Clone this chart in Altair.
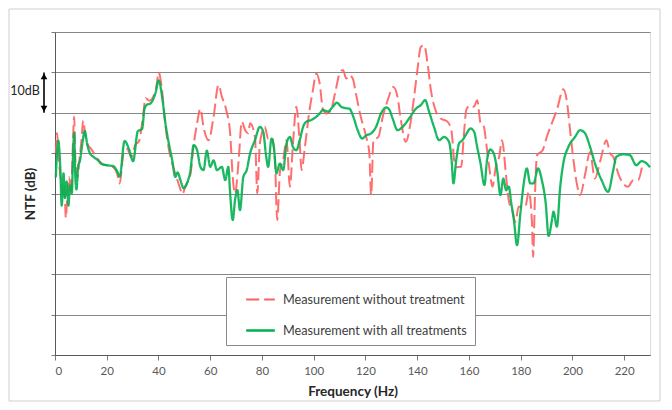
import altair as alt
import pandas as pd

series_names = ["Measurement without treatment", "Measurement with all treatments"]
x_ticks = [0, 20, 40, 60, 80, 100, 120, 140, 160, 180, 200, 220]
y_grid = [0, 10, 20, 30, 40, 50, 60, 70, 80]

red_freq = [0.3, 0.8, 1.5, 2.2, 3.0, 3.6, 4.2, 4.8, 5.5, 6.2, 6.8, 7.4, 7.9, 8.7, 9.4,
            10.2, 10.9, 11.8, 12.8, 14, 16, 18, 20, 22.5, 24, 25, 26.5, 28, 29.5, 31,
            32.5, 34, 35, 36.5, 38, 39.2, 40.1, 41.2, 42.5, 44, 45.5, 47, 48.5, 49.2,
            50.5, 52.3, 53.6, 54.9, 56.2, 57.4, 59.4, 61.3, 63.2, 64.5, 66.2, 67.7,
            68.7, 69.6, 71, 72.2, 73.5, 74.7, 75.4, 77.3, 78.2, 79.2, 81.1, 82.4, 83.7,
            85, 85.9, 87, 88.2, 89.5, 90.8, 92, 93.3, 94.6, 95.3, 96.6, 98.2, 99.7,
            101, 102.3, 103.6, 105.1, 106.7, 108.5, 110, 111.3, 112.6, 113.8, 115.1,
            116.3, 118.2, 120.3, 121.5, 122.2, 123.1, 125, 126.7, 128.6, 130.8, 132.4,
            133.7, 135.6, 137.6, 138.8, 140.1, 141.4, 142.7, 144, 145.3, 147, 149.1,
            151.7, 153.3, 154.3, 155.3, 157, 158.1, 159, 160.6, 161.9, 163.2, 164.5,
            165.8, 166.7, 168, 169.1, 170.4, 171.7, 172.8, 174.4, 175.4, 176.7, 178,
            179.2, 181.8, 183.1, 184.4, 184.8, 185.6, 186.3, 188.5, 190.1, 192, 194,
            196.5, 197.9, 199.1, 200.4, 201.7, 203, 205, 206.8, 208.7, 210.7, 213.2,
            214.5, 215.8, 217.7, 219.6, 221.5, 223.5, 225.4, 226.9]
red_db = [50, 55, 48, 44, 40, 42, 34, 40, 44, 40, 50, 59, 48, 44, 48,
          53, 58, 54, 52, 51, 49, 47.5, 47, 46.5, 45, 42.5, 50, 51, 49, 52,
          53, 59, 63.6, 63, 64, 66.5, 70, 66.5, 58, 51, 47, 44, 41, 39.8,
          42, 44.6, 52, 57.3, 61, 56.5, 53.2, 59, 66.9, 64, 60.7, 54.9,
          44.1, 40, 48.3, 57.8, 55.7, 54.9, 57.4, 54, 40, 52.4, 56.5, 53.6, 54,
          48.3, 33.4, 45.8, 48.3, 53.2, 41.7, 52.4, 61.5, 52.4, 45.8, 51.5, 59.8, 65.6,
          69.7, 67.3, 60.7, 59.8, 60.7, 65.6, 69.7, 70.6, 68.5, 69.3, 68.5,
          64.8, 59, 54, 50, 39.6, 53.2, 54, 59, 63.1, 66.4, 63.9,
          58.2, 52.8, 58.2, 63.9, 70.6, 76.3, 76.7, 72.3, 65.6, 60.8, 58.6,
          57.8, 55.3, 48.3, 46.5, 46.6, 54.9, 60.7, 61.9, 61.5, 63.1, 57.4,
          56.5, 52.4, 45.8, 41.7, 46.6, 49.1, 53.2, 44.1, 38.3, 35.9, 33,
          36.7, 36.7, 40.4, 32.6, 24.3, 40.8, 49.5, 50.7, 54, 57.3, 60.7,
          65.8, 62.7, 55.7, 48.3, 42.5, 39.6, 45, 50.3, 43.7, 47.9, 53.2,
          50, 49.1, 45, 42.5, 41.7, 43.3, 43.3, 46.6]

green_freq = [0.3, 0.8, 1.3, 2.0, 2.6, 3.3, 3.8, 4.5, 5.2, 5.8, 6.5, 7.0, 7.4, 7.8, 8.3,
              9.0, 9.6, 10.5, 11.5, 12.5, 13.5, 15, 16.5, 18, 20, 22.5, 24, 25, 26.9,
              28.6, 30.2, 32, 33.7, 34.6, 35.6, 36.9, 38.8, 40.1, 41.4, 42.7, 44, 45.3,
              46.5, 47.4, 48.5, 49.7, 51, 52.3, 53.6, 54.9, 56.2, 57.4, 58.7, 60, 61.3,
              62.6, 64.5, 65.8, 67, 67.7, 68.7, 69.6, 70.5, 71.5, 72.8, 74.1, 75.4, 77.3,
              79.2, 80.5, 81.5, 82.4, 83.7, 84.6, 85.6, 86.9, 88.2, 89.5, 90.8, 92, 93.3,
              94.6, 95.9, 97.2, 99.1, 101, 102.3, 103.6, 105.5, 107.4, 109, 110.6, 112.6,
              113.8, 115.1, 117, 118.7, 120.3, 122.2, 124.1, 126, 128, 129.2, 130.5,
              132.4, 134.4, 136.9, 139.5, 141.4, 143.1, 144.6, 146.5, 148.5, 150.4,
              152.3, 153.3, 154, 155.1, 156.2, 157.5, 158.7, 160.6, 162, 163.2, 164.5,
              166, 167, 168.3, 169.6, 170.9, 172.2, 173.3, 174.4, 175.4, 176.4, 177.4,
              178.6, 179.9, 181.2, 182.4, 183.7, 185, 186.7, 188.2, 189.7, 190.8, 192.1,
              192.7, 194, 195.3, 196.5, 198.5, 201, 203, 204.9, 206.8, 208.7, 211.3,
              213.8, 215.8, 217, 219.6, 222.2, 224.7, 226.7, 228.6, 230]
green_db = [44, 50, 53, 47, 37, 45, 39, 43, 37, 42, 40, 50, 55, 45, 41,
            47, 48, 52, 55.5, 52, 50, 49, 48.3, 47.3, 47, 46.8, 45.5, 44.2, 53,
            51, 48, 55.4, 56, 61, 62, 62.3, 64.8, 68, 64, 57.3, 52.4, 48.3,
            44.1, 45.2, 43.3, 41.3, 42.5, 45.5, 52, 50.8, 46.6, 45.8, 50.6, 46.6, 48.2,
            45.8, 46.6, 43.3, 46.6, 40, 33.4, 38.4, 40.8, 35.9, 44.1, 45.8, 49.9, 53.2,
            56.5, 55.3, 49.9, 46.6, 53.6, 51.5, 45, 47.4, 45.8, 52.4, 54, 51.5, 50.7,
            53.2, 56.5, 57.8, 58.2, 59, 59.8, 60.7, 60.3, 61.5, 62.5, 61.5, 61.1,
            61, 59.4, 55.7, 53.6, 54.4, 54.9, 56.5, 59.8, 61.3, 60.8, 58.6,
            55.7, 56.5, 58.6, 61, 61.9, 63.1, 60.3, 56.5, 53.2, 54,
            52.8, 48.3, 42.5, 48.3, 52.4, 53.2, 54.4, 56.1, 55.3, 51.5, 47.4,
            42.1, 48.3, 50.9, 49.9, 45.8, 39.6, 43.7, 40.8, 41.7, 37.5, 33.4,
            27.2, 35.1, 42.5, 46.2, 42.5, 42.5, 46.2, 43.3, 37.5, 29.5, 33.4,
            35.5, 31.8, 41.7, 47.5, 51.6, 54, 55.7, 54.9, 51.6, 47.5, 43.3,
            40.4, 45.8, 49.1, 49.7, 49.5, 47, 48, 47.5, 46.5]

FONT = "Lato"

red_df = pd.DataFrame({"f": red_freq, "db": red_db, "s": series_names[0]})
green_df = pd.DataFrame({"f": green_freq, "db": green_db, "s": series_names[1]})

color_scale = alt.Scale(domain=series_names, range=["#FF5F5F", "#00B050"])
dash_scale = alt.Scale(domain=series_names, range=[[13, 5], [1, 0]])
width_scale = alt.Scale(domain=series_names, range=[2.0, 2.3])
y_scale = alt.Scale(domain=[0, 80], nice=False)

legend = alt.Legend(
    title=None, orient="none", legendX=171, legendY=245,
    symbolType="stroke", symbolSize=820, symbolStrokeWidth=2.4,
    labelFont=FONT, labelFontSize=12.7, labelColor="#404040", labelLimit=400,
    strokeColor="#8a8a8a", fillColor="white", padding=7,
    rowPadding=8, labelOffset=7, symbolOffset=12,
)

x_axis = alt.Axis(values=x_ticks, title="Frequency (Hz)", grid=False,
                  labelFont=FONT, labelFontSize=11.5, labelColor="#595959",
                  labelPadding=5, tickSize=5, tickColor="#7a7a7a",
                  domainColor="#595959", titleFont=FONT, titleFontSize=13.5,
                  titleFontWeight="bold", titleColor="#262626", titlePadding=8)
y_axis = alt.Axis(values=y_grid, labels=False, grid=True, gridColor="#868686",
                  gridWidth=1.2, tickSize=4, tickColor="#7a7a7a",
                  domainColor="#595959", title="NTF (dB)", titleFont=FONT,
                  titleFontSize=13.5, titleFontWeight="bold", titleColor="#262626",
                  titleAngle=270, titleX=-25, titleY=161.5,
                  titleAlign="center", titleBaseline="middle")

x_enc = alt.X("f:Q", scale=alt.Scale(domain=[0, 230], nice=False, zero=False), axis=x_axis)
y_enc = alt.Y("db:Q", scale=y_scale, axis=y_axis)

def series_layer(df):
    return alt.Chart(df).mark_line(interpolate="monotone", strokeOpacity=0.9).encode(
        x=x_enc, y=y_enc,
        color=alt.Color("s:N", scale=color_scale, legend=legend),
        strokeDash=alt.StrokeDash("s:N", scale=dash_scale, legend=legend),
        strokeWidth=alt.StrokeWidth("s:N", scale=width_scale, legend=None),
    )

red_layer = series_layer(red_df)
green_layer = series_layer(green_df)

ann_df = pd.DataFrame({"top": [70], "bottom": [60], "mid": [65.3], "label": ["10dB"]})
arrow_line = alt.Chart(ann_df).mark_rule(color="black", strokeWidth=1.6).encode(
    x=alt.value(-11), y=alt.Y("top:Q", scale=y_scale, axis=y_axis), y2="bottom:Q")
arrow_top = alt.Chart(ann_df).mark_point(shape="triangle-up", filled=True, size=45,
                                         color="black", opacity=1, yOffset=4).encode(
    x=alt.value(-11), y=alt.Y("top:Q", scale=y_scale, axis=y_axis))
arrow_bot = alt.Chart(ann_df).mark_point(shape="triangle-down", filled=True, size=45,
                                         color="black", opacity=1, yOffset=-4).encode(
    x=alt.value(-11), y=alt.Y("bottom:Q", scale=y_scale, axis=y_axis))
ann_text = alt.Chart(ann_df).mark_text(font=FONT, fontSize=12.5, color="#262626",
                                       align="center", baseline="middle").encode(
    x=alt.value(-30), y=alt.Y("mid:Q", scale=y_scale, axis=y_axis), text="label:N")

frame = alt.Chart(ann_df).mark_rect(fill="transparent", stroke="#cfcfcf", strokeWidth=1).encode(
    x=alt.value(-46), x2=alt.value(605), y=alt.value(-23), y2=alt.value(369))

chart = alt.layer(frame, red_layer, green_layer, arrow_line, arrow_top, arrow_bot, ann_text).properties(
    width=595, height=323,
    padding={"left": 47, "top": 24, "right": 14, "bottom": 47},
    autosize=alt.AutoSizeParams(type="none"),
).configure_view(stroke="#9a9a9a", strokeWidth=1).configure(background="white")

chart.save("out.html", embed_options={"renderer": "svg", "actions": False})
